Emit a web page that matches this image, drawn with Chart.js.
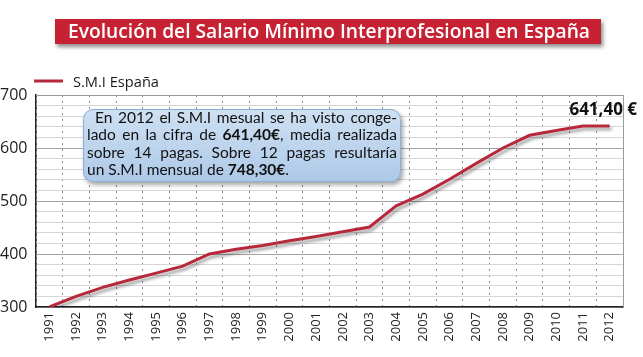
<!DOCTYPE html>
<html><head><meta charset="utf-8">
<script src="https://cdn.jsdelivr.net/npm/chart.js@4.4.1/dist/chart.umd.min.js"></script>
<style>html,body{margin:0;padding:0;background:#fff;}#wrap{width:643px;height:357px;}</style>
</head><body><div id="wrap"><canvas id="c" width="643" height="357"></canvas></div>
<script>
const years = ['1991','1992','1993','1994','1995','1996','1997','1998','1999','2000','2001','2002','2003','2004','2005','2006','2007','2008','2009','2010','2011','2012'];
const smiValues = [300,320,337,351,364,377,400,409,416,425,433,442,451,491,513,541,571,600,624,633,641.4,641.4];
const yTickLabels = [300,400,500,600,700];
const seriesLabel = 'S.M.I España';
const titleText = 'Evolución del Salario Mínimo Interprofesional en España';
const lastValueLabel = '641,40 €';
const noteLines = [
  ' En 2012 el S.M.I mesual se ha visto conge-',
  'lado en la cifra de **641,40€**, media realizada',
  'sobre 14 pagas. Sobre 12 pagas resultaría',
  'un S.M.I mensual de **748,30€**.'
];

const LINE_COLOR = '#b7283b';

function parseWords(line, state) {
  const words = [];
  const indent = line.startsWith(' ');
  line.trim().split(/\s+/).forEach(w => {
    const segs = [];
    const parts = w.split('**');
    parts.forEach((p, i) => {
      if (i > 0) state.bold = !state.bold;
      if (p.length) segs.push({t: p, b: state.bold});
    });
    words.push(segs);
  });
  return {words, indent};
}

const decor = {
  id: 'decor',
  beforeDatasetsDraw(chart) {
    const {ctx, chartArea: a} = chart;
    ctx.save();
    ctx.strokeStyle = '#9a9a9a';
    ctx.lineWidth = 1;
    ctx.beginPath();
    ctx.moveTo(a.left, a.top + 0.5); ctx.lineTo(a.right + 0.5, a.top + 0.5);
    ctx.lineTo(a.right + 0.5, a.bottom);
    ctx.stroke();
    ctx.restore();
  },
  beforeDatasetDraw(chart) {
    const ctx = chart.ctx;
    ctx.save();
    ctx.shadowColor = 'rgba(0,0,0,0.35)';
    ctx.shadowOffsetX = 2; ctx.shadowOffsetY = 3; ctx.shadowBlur = 3;
  },
  afterDatasetDraw(chart) { chart.ctx.restore(); },
  afterDraw(chart) {
    const {ctx, chartArea: a} = chart;
    // Title box
    ctx.save();
    ctx.shadowColor = 'rgba(0,0,0,0.45)';
    ctx.shadowOffsetX = 2; ctx.shadowOffsetY = 3; ctx.shadowBlur = 4;
    ctx.fillStyle = '#c62233';
    ctx.fillRect(55, 19, 546, 25);
    ctx.restore();
    ctx.save();
    ctx.font = '600 20px "Open Sans"';
    ctx.fillStyle = '#ffffff';
    ctx.textBaseline = 'alphabetic';
    let w = ctx.measureText(titleText).width;
    ctx.translate(68, 38);
    ctx.scale(522 / w, 1);
    ctx.fillText(titleText, 0, 0);
    ctx.restore();

    // Legend
    const ds = chart.data.datasets[0];
    ctx.save();
    ctx.strokeStyle = ds.borderColor; ctx.lineWidth = 3;
    ctx.beginPath(); ctx.moveTo(34, 81); ctx.lineTo(63, 81); ctx.stroke();
    ctx.font = '15px "Open Sans"';
    ctx.fillStyle = '#1a1a1a';
    w = ctx.measureText(ds.label).width;
    ctx.translate(73, 86.5);
    ctx.scale(86 / w, 1);
    ctx.fillText(ds.label, 0, 0);
    ctx.restore();

    // Annotation box
    const bx = 83, by = 109, bw = 318, bh = 73, r = 10;
    ctx.save();
    ctx.shadowColor = 'rgba(0,0,0,0.35)';
    ctx.shadowOffsetX = 2; ctx.shadowOffsetY = 3; ctx.shadowBlur = 4;
    const g = ctx.createLinearGradient(0, by, 0, by + bh);
    g.addColorStop(0, '#cfe0f2'); g.addColorStop(1, '#adc9e8');
    ctx.fillStyle = g;
    ctx.beginPath();
    ctx.roundRect(bx, by, bw, bh, r);
    ctx.fill();
    ctx.restore();
    ctx.save();
    ctx.strokeStyle = '#8eaed4'; ctx.lineWidth = 1;
    ctx.beginPath(); ctx.roundRect(bx + 0.5, by + 0.5, bw - 1, bh - 1, r); ctx.stroke();
    ctx.restore();

    // Annotation text (justified)
    const tl = 87, tr = 397;
    const state = {bold: false};
    const parsed = noteLines.map(l => parseWords(l, state));
    ctx.save();
    ctx.fillStyle = '#111';
    ctx.textBaseline = 'alphabetic';
    let size = 15.5;
    const fontFor = b => (b ? 'bold ' : '') + size + 'px Lato';
    const wordW = segs => segs.reduce((s, sg) => { ctx.font = fontFor(sg.b); return s + ctx.measureText(sg.t).width; }, 0);
    const lineNat = p => { ctx.font = fontFor(false); const sp = ctx.measureText(' ').width; return p.words.reduce((s, wd) => s + wordW(wd), 0) + sp * (p.words.length - 1) + (p.indent ? 8 : 0); };
    while (size > 10 && Math.max(...parsed.map(lineNat)) > tr - tl) size -= 0.25;
    parsed.forEach((p, li) => {
      const y = 123 + li * 17.3;
      const start = tl + (p.indent ? 8 : 0);
      const widths = p.words.map(wordW);
      const total = widths.reduce((s, v) => s + v, 0);
      ctx.font = fontFor(false);
      let gap = ctx.measureText(' ').width;
      if (li < parsed.length - 1) gap = (tr - start - total) / (p.words.length - 1);
      let x = start;
      p.words.forEach((wd, i) => {
        wd.forEach(sg => { ctx.font = fontFor(sg.b); ctx.fillText(sg.t, x, y); x += ctx.measureText(sg.t).width; });
        x += gap;
      });
    });
    ctx.restore();

    // Last value label
    ctx.save();
    ctx.font = 'bold 17px "Open Sans"';
    ctx.fillStyle = '#111';
    ctx.textAlign = 'right';
    ctx.fillText(lastValueLabel, 637, 115);
    ctx.restore();
  }
};

new Chart(document.getElementById('c'), {
  type: 'line',
  data: {
    labels: years,
    datasets: [{
      label: seriesLabel,
      data: smiValues,
      borderColor: LINE_COLOR,
      borderWidth: 3,
      pointRadius: 0,
      tension: 0,
      fill: false
    }]
  },
  options: {
    responsive: false,
    devicePixelRatio: 1,
    animation: false,
    layout: {padding: {top: 95, right: 20, left: 0, bottom: 0}},
    plugins: {legend: {display: false}, tooltip: {enabled: false}, title: {display: false}},
    scales: {
      x: {
        offset: true,
        grid: {offset: true, color: '#8a8a8a', lineWidth: 1, drawTicks: false},
        border: {display: true, color: '#222', width: 1.5, dash: [2, 4]},
        ticks: {minRotation: 90, maxRotation: 90, autoSkip: false, padding: 5, color: '#222', font: {family: 'Open Sans', size: 13}},
        afterFit: s => { s.height = 50; }
      },
      y: {
        min: 300, max: 700,
        grid: {drawTicks: false, color: c => (c.tick && c.tick.value % 100 === 0) ? '#a5a5a5' : '#d6d6d6', lineWidth: 1},
        border: {display: true, color: '#222', width: 1.5},
        ticks: {
          stepSize: 20, autoSkip: false, crossAlign: 'far', color: '#222', padding: 4,
          font: {family: 'Open Sans', size: 16},
          callback: v => yTickLabels.includes(v) ? String(v) : ''
        },
        afterFit: s => { s.width = 36; }
      }
    }
  },
  plugins: [decor]
});
</script>
</body></html>
